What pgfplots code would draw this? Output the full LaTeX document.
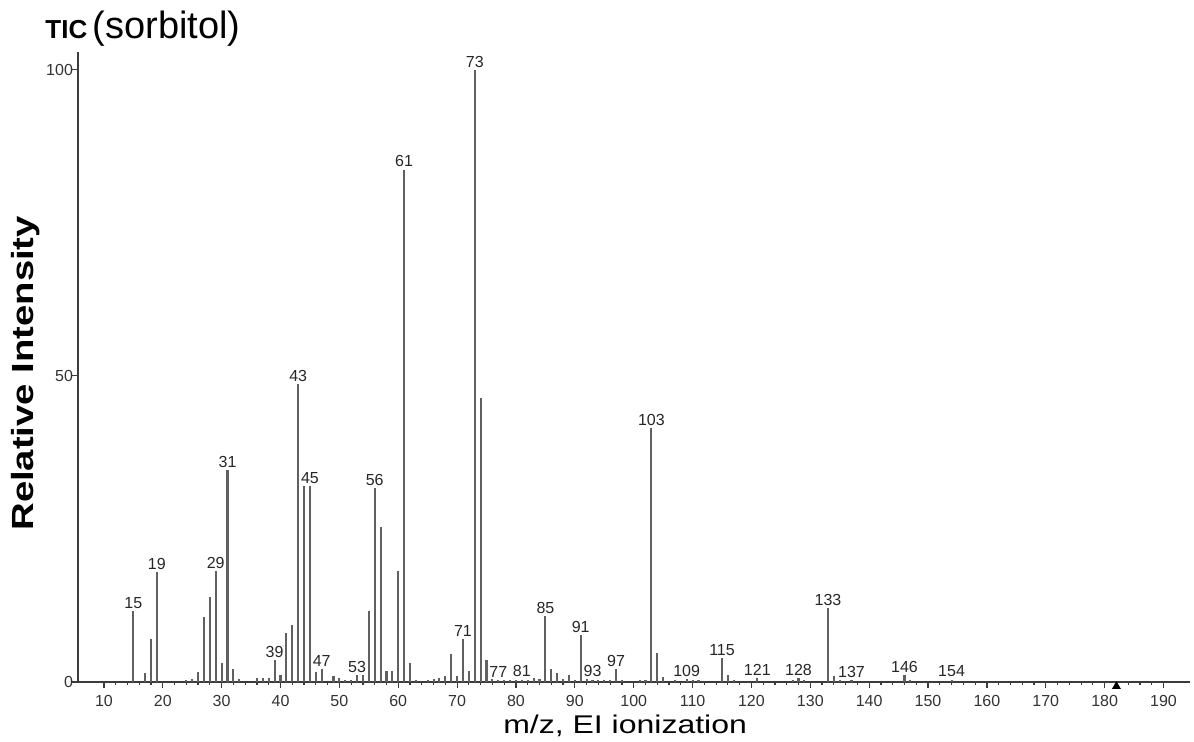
\documentclass[border=0pt]{standalone}
\usepackage{fontspec}
\setmainfont{Liberation Sans}
\newfontfamily\widefont[FakeStretch=1.25]{Liberation Sans}
\usepackage{pgfplots}
\pgfplotsset{compat=1.18}

\definecolor{peak}{RGB}{96,96,96}
\definecolor{axisc}{RGB}{60,60,60}

\begin{document}
\begin{tikzpicture}
\useasboundingbox (0,0) rectangle (597pt,371pt);

% title, top left
\node[anchor=base west, inner sep=0pt] at (22.5pt,351.5pt)
  {{\bfseries\fontsize{13}{14}\selectfont TIC} {\fontsize{19}{22}\selectfont(sorbitol)}};

\begin{axis}[
    at={(39pt,30pt)}, anchor=south west,
    scale only axis, width=556pt, height=315pt,
    xmin=5.6, xmax=194.5, ymin=0, ymax=102.9,
    axis lines*=left,
    axis line style={axisc, line width=0.8pt},
    clip=false,
    xtick={10,20,...,190},
    minor x tick num=4,
    ytick={0,50,100},
    tick align=outside,
    major tick length=3pt,
    minor tick length=1.5pt,
    tick style={axisc, line width=0.6pt},
    ticklabel style={font=\fontsize{8}{9}\selectfont, text=black!80},
    yticklabel style={xshift=4pt},
    /pgf/number format/assume math mode=true,
    xlabel={m/z, EI ionization},
    ylabel={Relative Intensity},
    xlabel style={font=\widefont\fontsize{12.8}{14}\selectfont,
      at={(axis description cs:0.492,0)}, anchor=center, yshift=-22pt},
    ylabel style={font=\widefont\bfseries\fontsize{15.3}{17}\selectfont,
      at={(axis description cs:0,0.49)}, anchor=center, yshift=26pt},
  ]

% mass spectrum
\addplot[ycomb, no marks, peak, line width=1.05pt] coordinates {
(15,11.6) (17,1.5) (18,7.0) (19,18.0) (24,0.3) (25,0.5) (26,1.6)
(27,10.6) (28,13.9) (29,18.1) (30,3.1) (31,34.6) (32,2.1) (33,0.5)
(36,0.6) (37,0.6) (38,0.6) (39,3.6) (40,1.1) (41,8.0) (42,9.3)
(43,48.7) (44,32.0) (45,32.0) (46,1.6) (47,2.1) (49,1.0) (50,0.6)
(51,0.4) (52,0.4) (53,1.1) (54,1.2) (55,11.6) (56,31.7) (57,25.3)
(58,1.8) (59,1.8) (60,18.1) (61,83.7) (62,3.1) (63,0.4) (65,0.4)
(66,0.5) (67,0.6) (68,0.9) (69,4.5) (70,0.9) (71,7.0) (72,1.8)
(73,100) (74,46.4) (75,3.6) (76,0.5) (77,0.4) (78,0.3) (79,0.3)
(80,0.3) (81,0.4) (82,0.3) (83,0.6) (84,0.5) (85,10.8) (86,2.1)
(87,1.5) (88,0.5) (89,1.1) (90,0.4) (91,7.7) (92,0.5) (93,0.4)
(94,0.3) (95,0.3) (96,0.3) (97,2.1) (98,0.3) (101,0.4) (102,0.4)
(103,41.5) (104,4.7) (105,0.8) (107,0.3) (109,0.5) (110,0.3) (111,0.4)
(115,3.9) (116,1.1) (117,0.4) (121,0.6) (127,0.3) (128,0.6) (129,0.4)
(133,12.1) (134,0.9) (135,0.3) (137,0.3) (146,1.2) (147,0.4) (154,0.4)
};

% peak labels
\addplot[draw=none, no marks, point meta=x,
  nodes near coords={\pgfmathprintnumber[int detect]{\pgfplotspointmeta}},
  nodes near coords style={font=\fontsize{8}{9}\selectfont, text=black!85,
    anchor=south, inner sep=1pt}] coordinates {
(15,11.6) (19,18.0) (29,18.1) (31,34.6) (39,3.6) (43,48.7) (45,32.0)
(47,2.1) (53,1.1) (56,31.7) (61,83.7) (71,7.0) (73,100) (77,0.4)
(81,0.4) (85,10.8) (91,7.7) (93,0.4) (97,2.1) (103,41.5) (109,0.5)
(115,3.9) (121,0.6) (128,0.6) (133,12.1) (137,0.3) (146,1.2) (154,0.4)
};

% molecular ion marker
\addplot[only marks, mark=triangle*, mark size=2.2pt, black,
  mark options={yshift=-2.2pt}] coordinates {(182,0)};
\end{axis}
\end{tikzpicture}
\end{document}
